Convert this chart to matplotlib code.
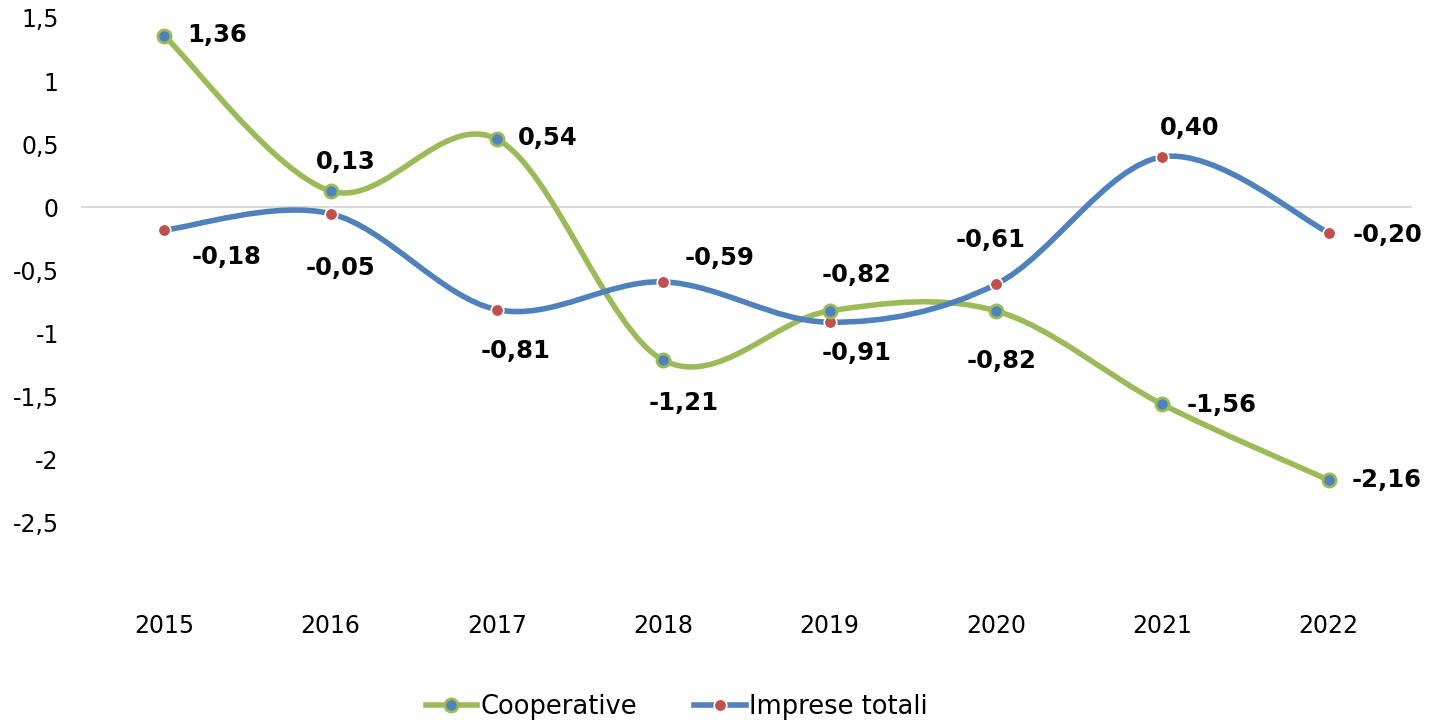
import numpy as np
import matplotlib.pyplot as plt
from matplotlib.path import Path
from matplotlib.patches import PathPatch
from matplotlib.lines import Line2D

# Dati
anni = ['2015', '2016', '2017', '2018', '2019', '2020', '2021', '2022']
cooperative = [1.36, 0.13, 0.54, -1.21, -0.82, -0.82, -1.56, -2.16]
imprese_totali = [-0.18, -0.05, -0.81, -0.59, -0.91, -0.61, 0.40, -0.20]
y_ticks = [1.5, 1, 0.5, 0, -0.5, -1, -1.5, -2, -2.5]

# Posizione etichette (offset in pixel rispetto al punto)
off_coop = [(53, 1), (15, 29), (51, 1), (20, -43), (27, 36), (6, -50), (59, -1), (58, 0)]
off_imp = [(62, -27), (10, -54), (19, -41), (56, 24), (27, -31), (-5, 44), (27, 29), (59, -2)]

verde = '#9BBB59'
blu = '#4F81BD'
rosso = '#C0504D'


def curva_smussata(x, y):
    # spline tipo Excel (Bezier cubica, Catmull-Rom)
    pts = np.column_stack([x, y]).astype(float)
    n = len(pts)
    verts = [pts[0]]
    codes = [Path.MOVETO]
    for i in range(n - 1):
        p0 = pts[i - 1] if i > 0 else pts[i]
        p1 = pts[i]
        p2 = pts[i + 1]
        p3 = pts[i + 2] if i + 2 < n else pts[i + 1]
        c1 = p1 + (p2 - p0) / 6
        c2 = p2 - (p3 - p1) / 6
        verts += [c1, c2, p2]
        codes += [Path.CURVE4] * 3
    return Path(verts, codes)


def fmt(v):
    return f'{v:.2f}'.replace('.', ',')


fig = plt.figure(figsize=(14.31, 7.2), dpi=100)
ax = fig.add_axes([0.0566, 0.186, 0.930, 0.789])

x = np.arange(len(anni))

ax.axhline(0, color='#D9D9D9', linewidth=1.5, zorder=1)

for serie, col in [(cooperative, verde), (imprese_totali, blu)]:
    patch = PathPatch(curva_smussata(x, serie), facecolor='none', edgecolor=col,
                      linewidth=4, capstyle='round', zorder=2)
    ax.add_patch(patch)

ax.plot(x, cooperative, linestyle='none', marker='o', markersize=9.5,
        markerfacecolor=blu, markeredgecolor=verde, markeredgewidth=2, zorder=4)
ax.plot(x, imprese_totali, linestyle='none', marker='o', markersize=9,
        markerfacecolor=rosso, markeredgecolor='white', markeredgewidth=1.2, zorder=3)

for xi, v, off in zip(x, cooperative, off_coop):
    ax.annotate(fmt(v), (xi, v), xytext=off, textcoords='offset pixels',
                ha='center', va='center', fontsize=17.5, fontweight='bold', zorder=5)
for xi, v, off in zip(x, imprese_totali, off_imp):
    ax.annotate(fmt(v), (xi, v), xytext=off, textcoords='offset pixels',
                ha='center', va='center', fontsize=17.5, fontweight='bold', zorder=5)

ax.set_xlim(-0.5, len(anni) - 0.5)
ax.set_ylim(-3, 1.5)
ax.set_xticks(x)
ax.set_xticklabels(anni)
ax.set_yticks(y_ticks)
ax.set_yticklabels([fmt(t).rstrip('0').rstrip(',') for t in y_ticks])
ax.tick_params(axis='both', length=0, labelsize=17, colors='#000000')
ax.tick_params(axis='x', pad=20)
ax.tick_params(axis='y', pad=16)
for s in ax.spines.values():
    s.set_visible(False)

handles = [
    Line2D([0], [0], color=verde, linewidth=4, marker='o', markersize=9.5,
           markerfacecolor=blu, markeredgecolor=verde, markeredgewidth=2),
    Line2D([0], [0], color=blu, linewidth=4, marker='o', markersize=9,
           markerfacecolor=rosso, markeredgecolor='white', markeredgewidth=1.2),
]
fig.legend(handles, ['Cooperative', 'Imprese totali'], loc='lower center',
           bbox_to_anchor=(0.473, -0.032), ncol=2, frameon=False, fontsize=18.5,
           handlelength=2.0, handletextpad=0.15, columnspacing=2.2)

fig.savefig('out.png', dpi=100)
